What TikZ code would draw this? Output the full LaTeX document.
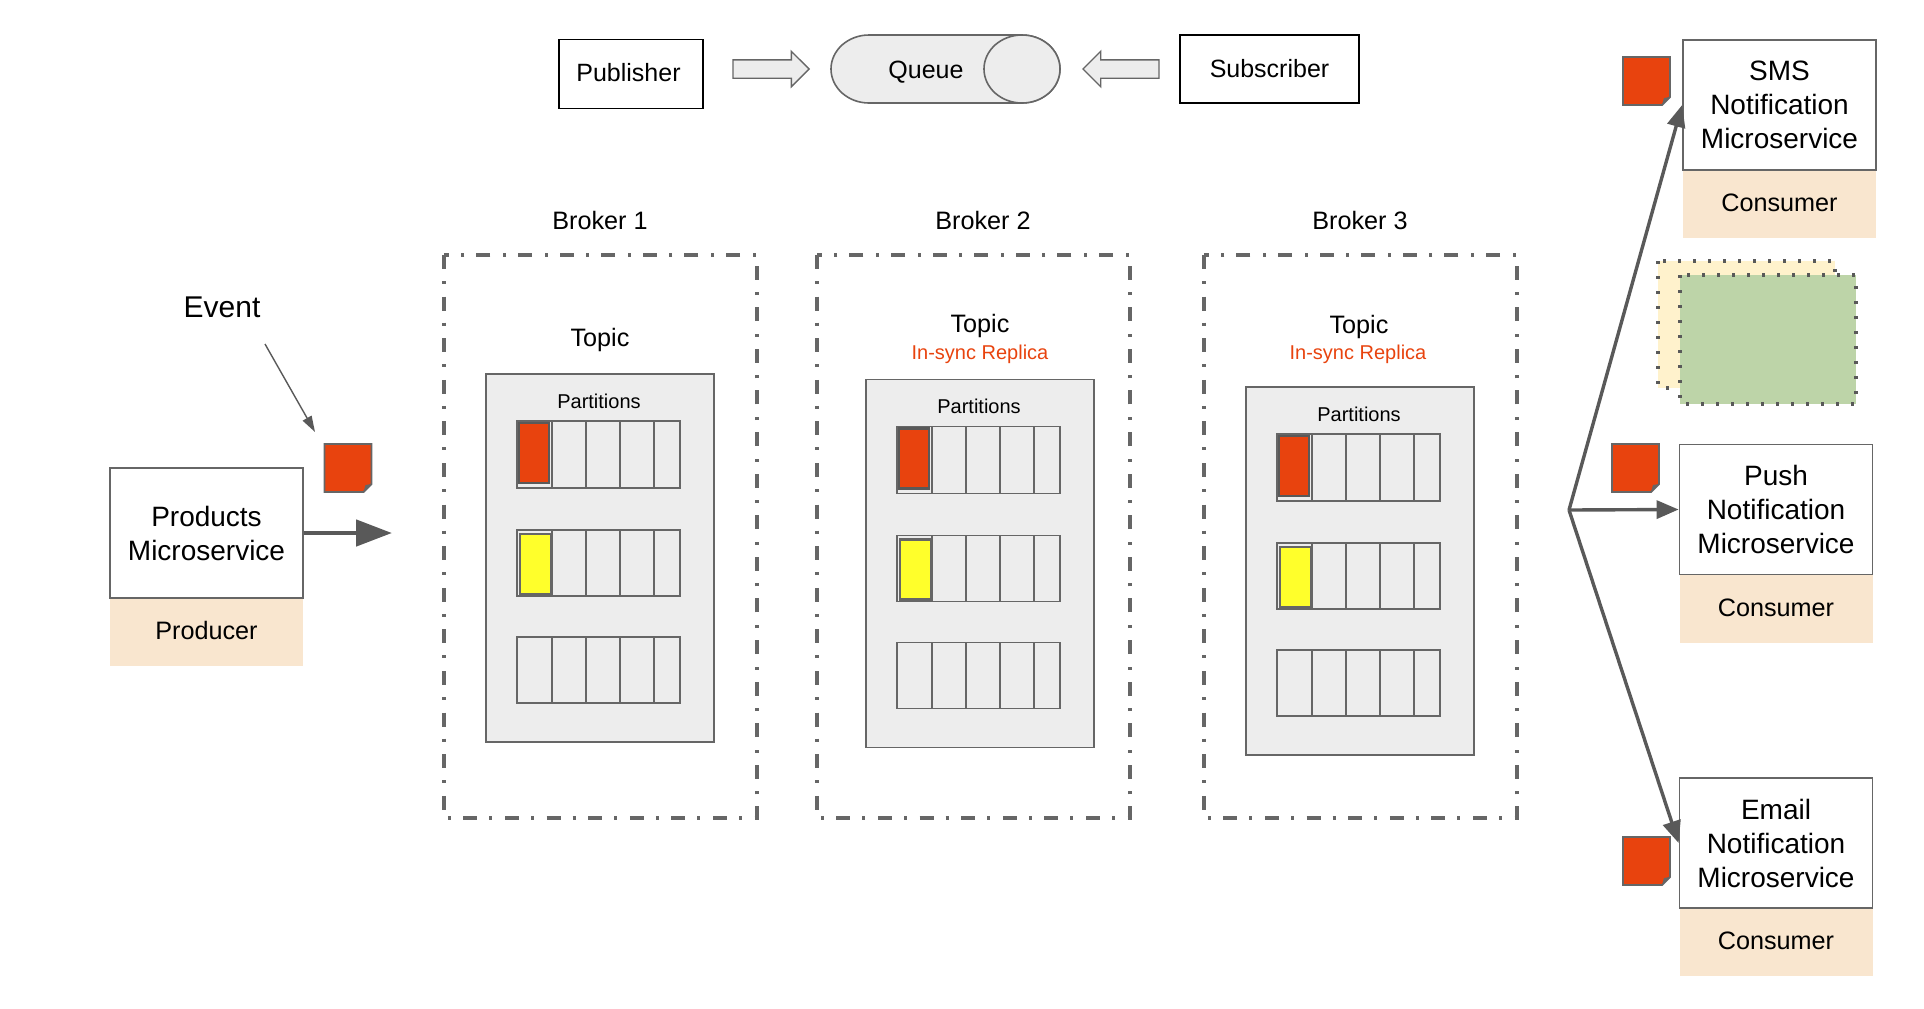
\documentclass[tikz,border=0pt]{standalone}
\usepackage{fontspec}
\setmainfont{Liberation Sans}
\usetikzlibrary{arrows.meta,shapes.arrows}
\definecolor{linegray}{HTML}{666666}
\definecolor{darkgray}{HTML}{595959}
\definecolor{panelgray}{HTML}{EDEDED}
\definecolor{eventred}{HTML}{E8430E}
\definecolor{eventyellow}{HTML}{FFFF2B}
\definecolor{roletan}{HTML}{F9E6CF}
\definecolor{stickyyellow}{HTML}{FFF2CC}
\definecolor{stickygreen}{HTML}{BDD4A8}
\tikzset{
  plainlabel/.style={inner sep=0pt, align=center, font=\fontsize{12.6}{15}\selectfont},
  smalllabel/.style={inner sep=0pt, align=center, font=\fontsize{10}{12}\selectfont},
  blackbox/.style={draw=black, line width=0.9pt, inner sep=0pt, font=\fontsize{12.5}{15}\selectfont},
  servicebox/.style={draw=linegray, line width=0.9pt, fill=white, inner sep=0pt, align=center,
    minimum width=96.5pt, minimum height=65pt, font=\fontsize{14}{17}\selectfont},
  rolebox/.style={fill=roletan, inner sep=0pt, minimum width=96.5pt, minimum height=34pt,
    text depth=1.2pt, font=\fontsize{12.6}{15}\selectfont},
  brokerbox/.style={draw=linegray, line width=1.6pt, dash pattern=on 7pt off 6pt on 1.5pt off 6.3pt},
  sticky/.style={draw=darkgray, line width=1.6pt, dash pattern=on 1.6pt off 5.9pt},
  blockarrow/.style={single arrow, draw=linegray, line width=0.7pt, fill=panelgray, inner sep=0pt,
    text height=8.5pt, text depth=0pt, minimum height=38pt, minimum width=17pt, single arrow head extend=4.25pt},
  thinarrow/.style={draw=darkgray, line width=0.7pt, -{Triangle[length=8pt,width=5pt]}},
  fanarrow/.style={draw=darkgray, line width=1.7pt, -{Triangle[length=11pt,width=9pt]}},
  eventnote/.pic={
    \draw[line width=0.9pt, draw=linegray, fill=eventred]
      (0,0) -- (47,0) -- (47,40) -- (39,48) -- (0,48) -- cycle;
    \fill[linegray] (47,40) -- (41,41) -- (39,48) -- cycle;
  }
}
\begin{document}
\begin{tikzpicture}[x=0.5pt,y=-0.5pt]
\useasboundingbox (0,0) rectangle (1924,1008);
%QUEUE
\node[blackbox, minimum width=72pt, minimum height=34.5pt, text depth=2pt] (publisher) at (631,74) {Publisher\rule{2.5pt}{0pt}};
\node[blackbox, minimum width=89.5pt, minimum height=34pt] (subscriber) at (1269.5,69) {Subscriber};
\draw[draw=linegray, line width=0.8pt, fill=panelgray] (869,35) -- (1022,35)
  arc[start angle=270, end angle=450, x radius=38, y radius=34] -- (869,103)
  arc[start angle=90, end angle=270, x radius=38, y radius=34] -- cycle;
\draw[draw=linegray, line width=0.8pt, fill=panelgray] (1022,69) ellipse [x radius=38, y radius=34];
\node[inner sep=0pt, font=\fontsize{12.5}{15}\selectfont] (queue) at (926,72.5) {Queue};
\node[blockarrow, anchor=tip] (pubarrow) at (810,69) {};
\node[blockarrow, shape border rotate=180, anchor=tip] (subarrow) at (1082,69) {};
%PRODUCER
\node[rolebox] (producer) at (206.5,632) {Producer};
\node[servicebox] (products) at (206.5,533) {Products\\Microservice};
\node[inner sep=0pt, font=\fontsize{15}{18}\selectfont] (event) at (222,307) {Event};
\coordinate (eventfrom) at (265,344);
\coordinate (eventto) at (315,432);
\coordinate (brokerin) at (392,533);
\draw[thinarrow] (eventfrom) -- (eventto);
\draw[fanarrow, line width=2.4pt, -{Triangle[length=18pt,width=13pt]}] (products.east) -- (brokerin);
\pic at (324.5,444) {eventnote};
%BROKERS
\draw[brokerbox] (444,255) rectangle (757,818);
\draw[brokerbox] (817,255) rectangle (1130,818);
\draw[brokerbox] (1204,255) rectangle (1517,818);
\node[plainlabel] (broker1) at (600,220) {Broker 1};
\node[plainlabel] (broker2) at (983,220) {Broker 2};
\node[plainlabel] (broker3) at (1360,220) {Broker 3};
\node[plainlabel] (topic1) at (600,339.5) {Topic};
\node[plainlabel] (topic2) at (980,326) {Topic};
\node[plainlabel] (topic3) at (1359,327) {Topic};
\node[smalllabel, text=eventred] (replica2) at (980,354) {In-sync Replica};
\node[smalllabel, text=eventred] (replica3) at (1358,354) {In-sync Replica};
%PANELS
\foreach \bnum/\dx/\dy in {1/0/0,2/380/5.5,3/760/13} {
  \begin{scope}[shift={(\dx,\dy)}]
    \draw[draw=linegray, line width=0.9pt, fill=panelgray] (486,374) rectangle (714,742);
    \node[smalllabel] (partitions\bnum) at (599,401) {Partitions};
    \foreach \rtop/\rbot in {421/488,530/596,637/703} {
      \draw[draw=linegray, line width=0.9pt] (517,\rtop) rectangle (680,\rbot);
      \foreach \cx in {552,586,620,654} {
        \draw[draw=linegray, line width=0.7pt] (\cx,\rtop) -- (\cx,\rbot);
      }
    }
    \draw[draw=darkgray, line width=1.2pt, fill=eventred] (519,423) rectangle (549,483);
    \draw[draw=linegray, line width=1.1pt, fill=eventyellow] (520,534) rectangle (551,594);
  \end{scope}
}
%CONSUMERS
\node[rolebox] (smsrole) at (1779.5,203.5) {Consumer};
\node[servicebox] (smsbox) at (1779.5,105) {SMS\\Notification\\Microservice};
\node[rolebox] (pushrole) at (1776,608.5) {Consumer};
\node[servicebox] (pushbox) at (1776,509.5) {Push\\Notification\\Microservice};
\node[rolebox] (emailrole) at (1776,941.5) {Consumer};
\node[servicebox] (emailbox) at (1776,843) {Email\\Notification\\Microservice};
\pic at (1623,57) {eventnote};
\pic at (1612,444) {eventnote};
\pic at (1623,837) {eventnote};
% Stickies
\draw[sticky, fill=stickyyellow] (1658,261) rectangle (1835,388);
\draw[sticky, fill=stickygreen] (1680,275) rectangle (1856,404);
% Fan
\coordinate (fan) at (1569,510);
\draw[fanarrow] (fan) -- (smsbox.west);
\draw[fanarrow] (fan) -- (pushbox.west);
\draw[fanarrow] (fan) -- (emailbox.west);
\end{tikzpicture}
\end{document}
